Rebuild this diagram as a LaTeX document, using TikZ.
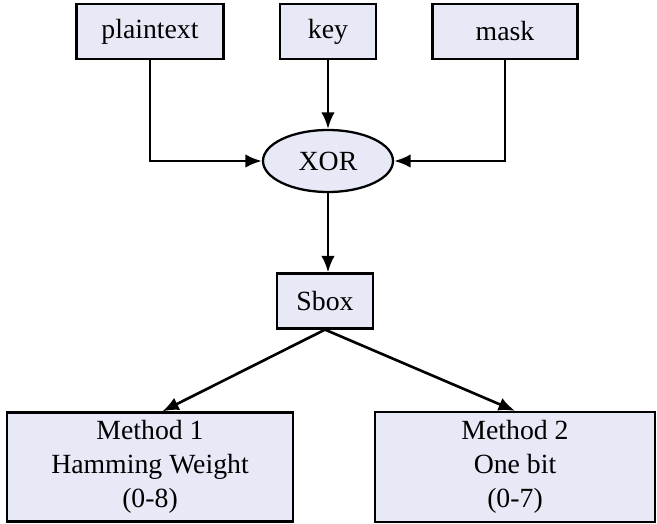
\documentclass[tikz,border=0pt]{standalone}
\usepackage{fontspec}
\setmainfont{Liberation Serif}
\usetikzlibrary{arrows.meta,shapes.geometric}

\definecolor{boxfill}{RGB}{231,234,246}
\tikzset{
  blk/.style={draw=black,line width=1.3pt,fill=boxfill,align=center,
    font=\fontsize{15.8}{19.5}\selectfont},
  oval/.style={blk,ellipse,inner sep=0pt},
  link/.style={->,line width=1.5pt}
}

\begin{document}
\begin{tikzpicture}[x=0.02cm,y=-0.02cm,>={Latex[length=3.3mm,width=2.7mm]}]
  \useasboundingbox (0,0) rectangle (657,524);

  \node [blk,minimum width=2.94cm,minimum height=1.1cm] (pt) at (150,31.5) {plaintext};
  \node [blk,minimum width=1.92cm,minimum height=1.1cm] (key) at (328,31.5) {key};
  \node [blk,minimum width=2.9cm,minimum height=1.1cm] (mask) at (505,31.5) {mask};
  \node [oval,minimum width=2.6cm,minimum height=1.24cm] (xor) at (328,161) {XOR};
  \node [blk,minimum width=1.92cm,minimum height=1.1cm] (sbox) at (325,301) {Sbox};
  \node [blk,minimum width=5.72cm,minimum height=2.18cm] (m1) at (150,467)
    {Method 1\\Hamming Weight\\(0-8)};
  \node [blk,minimum width=5.6cm,minimum height=2.2cm] (m2) at (515,467)
    {Method 2\\One bit\\(0-7)};

  \draw[link] (pt) |- (xor);
  \draw[link] (key) -- (xor);
  \draw[link] (mask) |- (xor);
  \draw[link] (xor) -- (xor |- sbox.north);
  \draw[link] (sbox.south) -- ([xshift=7]m1.north);
  \draw[link] (sbox.south) -- (m2.north);
\end{tikzpicture}
\end{document}
